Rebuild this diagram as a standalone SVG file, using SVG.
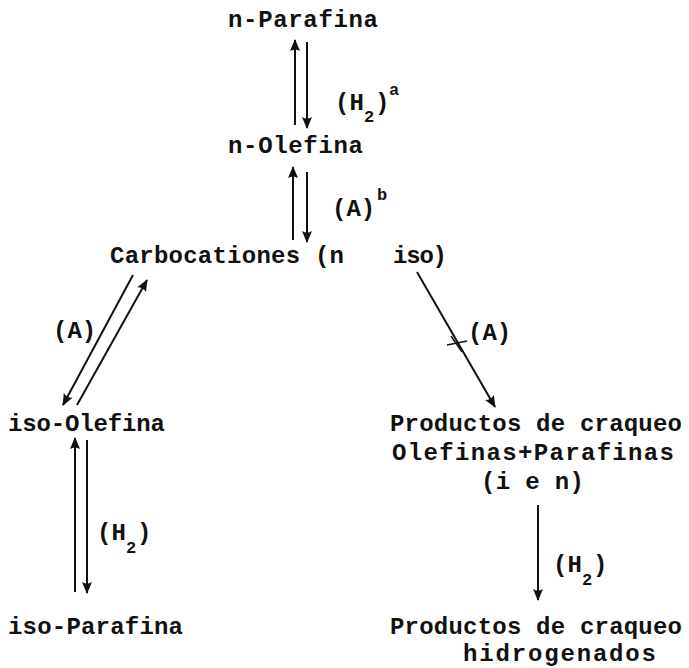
<svg xmlns="http://www.w3.org/2000/svg" width="689" height="668" viewBox="0 0 689 668">
<style>
text{font-family:"Liberation Mono","DejaVu Sans Mono",monospace;font-weight:bold;font-size:24px;fill:#111}
.sm{font-size:17px}
.c{stroke:#111;stroke-width:2;fill:none}
.x{stroke:#111;stroke-width:1.5;fill:none}
</style>
<defs>
<marker id="ah" markerUnits="userSpaceOnUse" markerWidth="14" markerHeight="14" viewBox="0 0 14 14" refX="12" refY="7" orient="auto">
<path d="M1,2 L13,7 L1,12 Q4,7 1,2 Z" fill="#111"/>
</marker>
</defs>
<rect width="689" height="668" fill="#fff"/>
<g id="connectors">
<line class="c" x1="295" y1="125" x2="295" y2="40" marker-end="url(#ah)"/>
<line class="c" x1="307" y1="42" x2="307" y2="128" marker-end="url(#ah)"/>
<line class="c" x1="293" y1="240" x2="293" y2="167" marker-end="url(#ah)"/>
<line class="c" x1="307" y1="172" x2="307" y2="242" marker-end="url(#ah)"/>
<line class="c" x1="133" y1="275" x2="63" y2="405" marker-end="url(#ah)"/>
<line class="c" x1="77" y1="405" x2="147" y2="280" marker-end="url(#ah)"/>
<line class="c" x1="417" y1="272" x2="495" y2="407" marker-end="url(#ah)"/>
<line class="x" x1="447" y1="345" x2="467" y2="341"/>
<line class="x" x1="451" y1="336" x2="462" y2="352"/>
<line class="c" x1="75" y1="592" x2="75" y2="438" marker-end="url(#ah)"/>
<line class="c" x1="87" y1="440" x2="87" y2="593" marker-end="url(#ah)"/>
<line class="c" x1="538" y1="505" x2="538" y2="600" marker-end="url(#ah)"/>
</g>
<g id="labels">
<text x="335" y="110">(H</text><text class="sm" x="364" y="122">2</text><text x="375" y="110">)</text><text class="sm" x="389" y="95">a</text>
<text x="332" y="216">(A)</text><text class="sm" x="377" y="200">b</text>
<text x="53" y="338">(A)</text>
<text x="468" y="340">(A)</text>
<text x="97" y="540">(H</text><text class="sm" x="126" y="553">2</text><text x="137" y="540">)</text>
<text x="553" y="572">(H</text><text class="sm" x="582" y="585">2</text><text x="593" y="572">)</text>
</g>
<g id="n-parafina"><text x="228" y="27" textLength="150">n-Parafina</text></g>
<g id="n-olefina"><text x="228" y="153" textLength="135">n-Olefina</text></g>
<g id="carbocationes"><text x="110" y="263" textLength="234">Carbocationes (n</text><text x="393" y="263" textLength="54">iso)</text></g>
<g id="iso-olefina"><text x="8" y="431" textLength="157">iso-Olefina</text></g>
<g id="productos-craqueo"><text x="390" y="431" textLength="292">Productos de craqueo</text><text x="392" y="460" textLength="282">Olefinas+Parafinas</text><text x="481" y="489" textLength="103">(i e n)</text></g>
<g id="iso-parafina"><text x="8" y="634" textLength="175">iso-Parafina</text></g>
<g id="productos-hidrogenados"><text x="390" y="634" textLength="292">Productos de craqueo</text><text x="463" y="661" textLength="193">hidrogenados</text></g>
</svg>
